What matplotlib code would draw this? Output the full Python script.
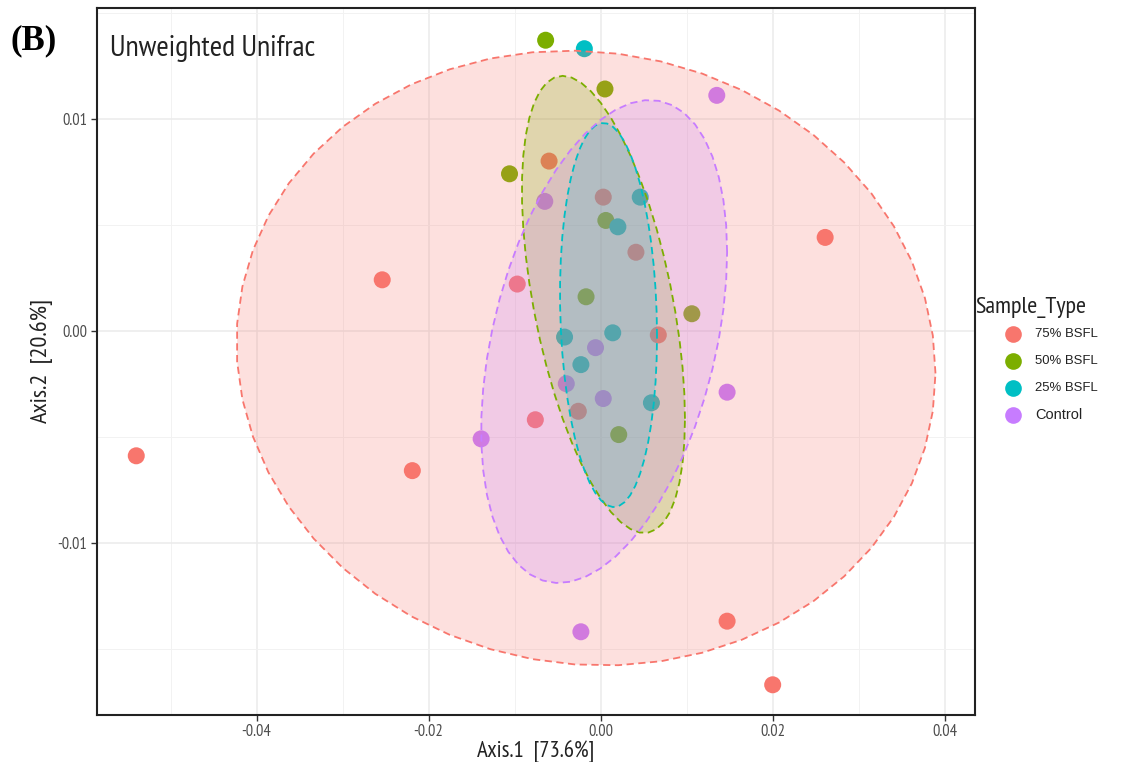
import numpy as np
import matplotlib
matplotlib.use('Agg')
import matplotlib.pyplot as plt
from matplotlib import font_manager as fm
from matplotlib.lines import Line2D
from matplotlib.patches import Polygon
from matplotlib.ticker import MultipleLocator, FixedLocator

groups = ['75% BSFL', '50% BSFL', '25% BSFL', 'Control']
colors = ['#F8766D', '#7CAE00', '#00BFC4', '#C77CFF']

# PCoA coordinates
bsfl75_x = [-0.0540, -0.0254, -0.0219, -0.0097, -0.0060, -0.0076, 0.0003,
            -0.0026, 0.0041, 0.0067, 0.0261, 0.0147, 0.0200]
bsfl75_y = [-0.0059, 0.0024, -0.0066, 0.0022, 0.0080, -0.0042, 0.0063,
            -0.0038, 0.0037, -0.0002, 0.0044, -0.0137, -0.0167]
bsfl50_x = [-0.0064, 0.0005, -0.0106, 0.0006, -0.0017, 0.0106, 0.0021]
bsfl50_y = [0.0137, 0.0114, 0.0074, 0.0052, 0.0016, 0.0008, -0.0049]
bsfl25_x = [-0.0019, 0.0046, 0.0020, -0.0042, 0.0014, -0.0023, 0.0059]
bsfl25_y = [0.0133, 0.0063, 0.0049, -0.0003, -0.0001, -0.0016, -0.0034]
control_x = [0.0135, -0.0065, -0.0006, -0.0040, 0.0003, 0.0147, -0.0139, -0.0023]
control_y = [0.0111, 0.0061, -0.0008, -0.0025, -0.0032, -0.0029, -0.0051, -0.0142]

xs = [bsfl75_x, bsfl50_x, bsfl25_x, control_x]
ys = [bsfl75_y, bsfl50_y, bsfl25_y, control_y]

# 95% ellipses: centre, half-extent in x and y, correlation
ell_cx = [-0.00171, 0.00032, 0.00091, 0.00040]
ell_cy = [-0.00129, 0.00124, 0.00074, -0.00051]
ell_ax = [0.04064, 0.00948, 0.00564, 0.01430]
ell_ay = [0.01450, 0.01078, 0.00906, 0.01139]
ell_rho = [-0.05, -0.50, -0.11, 0.37]


def pick_narrow():
    # a condensed sans face if one is installed, else Liberation Sans
    ok = [f for f in fm.fontManager.ttflist
          if f.style == 'normal' and str(f.weight) in ('400', 'normal', 'regular', 'book')]
    for f in ok:
        if 'Narrow' in f.name and 'Sans' in f.name:
            return f.fname
    for f in ok:
        if f.stretch in ('condensed', 'semi-condensed', 'extra-condensed') or 'Condensed' in f.name:
            return f.fname
    return fm.findfont('Liberation Sans')


fm.fontManager.ttflist.append(fm.FontEntry(
    fname=pick_narrow(), name='ChartNarrow', style='normal', variant='normal',
    weight=400, stretch='normal', size='scalable'))
narrow = ['ChartNarrow', 'DejaVu Sans']


def ellipse_pts(cx, cy, a, b, rho, segments=51):
    cov = np.array([[a * a, rho * a * b], [rho * a * b, b * b]])
    L = np.linalg.cholesky(cov)
    ang = np.linspace(0, 2 * np.pi, segments + 1)
    circle = np.column_stack([np.cos(ang), np.sin(ang)])
    return np.array([cx, cy]) + circle @ L.T


fig = plt.figure(figsize=(11.27, 7.62), dpi=100)
ax = fig.add_axes([0.0858, 0.0621, 0.7793, 0.9274])

for x, y, c in zip(xs, ys, colors):
    ax.scatter(x, y, s=150, color=c, edgecolors='none', zorder=2)

for i, c in enumerate(colors):
    e = ellipse_pts(ell_cx[i], ell_cy[i], ell_ax[i], ell_ay[i], ell_rho[i])
    ax.add_patch(Polygon(e, closed=True, facecolor=c, alpha=0.22,
                         edgecolor='none', zorder=3))
    ax.add_patch(Polygon(e, closed=True, fill=False, edgecolor=c,
                         lw=1.3, ls=(0, (4, 2.5)), zorder=4))

ax.set_xlim(-0.0586, 0.04352)
ax.set_ylim(-0.01811, 0.01522)
ax.xaxis.set_major_locator(FixedLocator([-0.04, -0.02, 0.0, 0.02, 0.04]))
ax.yaxis.set_major_locator(FixedLocator([-0.01, 0.0, 0.01]))
ax.xaxis.set_minor_locator(MultipleLocator(0.01))
ax.yaxis.set_minor_locator(MultipleLocator(0.005))
ax.set_xticklabels(['-0.04', '-0.02', '0.00', '0.02', '0.04'])
ax.set_yticklabels(['-0.01', '0.00', '0.01'])
ax.grid(which='major', color='#EBEBEB', lw=1.1, zorder=0)
ax.grid(which='minor', color='#F2F2F2', lw=0.7, zorder=0)
ax.set_axisbelow(True)
ax.tick_params(which='major', length=4, width=1, color='#333333',
               labelcolor='#4D4D4D', pad=3, labelfontfamily='ChartNarrow')
ax.tick_params(which='minor', length=0)
for sp in ax.spines.values():
    sp.set_color('#222222')
    sp.set_linewidth(1.5)

xl = ax.set_xlabel('Axis.1  [73.6%]', family=narrow, fontsize=16, color='#222222', labelpad=0)
yl = ax.set_ylabel('Axis.2  [20.6%]', family=narrow, fontsize=16, color='#222222', labelpad=3)

title = ax.text(0.015, 0.962, 'Unweighted Unifrac', transform=ax.transAxes, ha='left',
                va='top', family=narrow, fontsize=20, color='#222222')
fig.text(0.009, 0.968, '(B)', ha='left', va='top', family='Liberation Serif',
         fontweight='bold', fontsize=25)

# legend, drawn at the place it has in the reference
W, H = 1127.0, 762.0
leg_title = fig.text(975 / W, 1 - 308 / H, 'Sample_Type', ha='left', va='center',
                     family=narrow, fontsize=15, color='#222222')
leg_texts = []
for i, (g, c) in enumerate(zip(groups, colors)):
    yy = 1 - (334 + 27 * i) / H
    fig.add_artist(Line2D([1013 / W], [yy], transform=fig.transFigure, ls='none',
                          marker='o', markersize=12, color=c, markeredgecolor='none'))
    leg_texts.append(fig.text(1035 / W, yy, g, ha='left', va='center',
                              family='Liberation Sans', fontsize=9.5, color='#222222'))

# scale the text so its width matches the reference
fig.canvas.draw()
r = fig.canvas.get_renderer()


def fit(t, target):
    bb = t.get_window_extent(r)
    t.set_fontsize(t.get_fontsize() * target / max(bb.width, bb.height))


fit(title, 205)
fit(xl, 118)
fit(yl, 124)
fit(leg_title, 112)
for t in leg_texts:
    fit(t, 63 if t.get_text() != 'Control' else 47)
lab = ax.get_xticklabels()[0]
k = 30 / lab.get_window_extent(r).width
ax.tick_params(labelsize=lab.get_fontsize() * k)

fig.savefig('out.png', dpi=100)
